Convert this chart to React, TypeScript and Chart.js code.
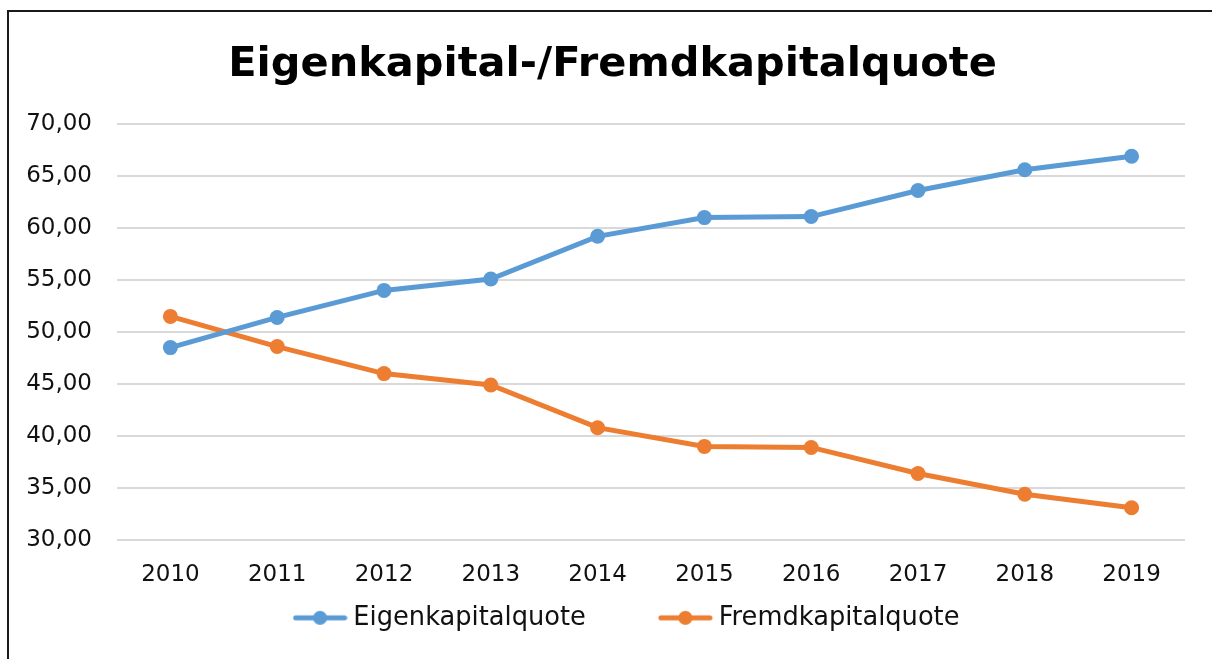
import React, { useEffect, useRef } from "react";
import { Chart, registerables } from "chart.js";
Chart.register(...registerables);

const years = ["2010", "2011", "2012", "2013", "2014", "2015", "2016", "2017", "2018", "2019"];
const eigenkapitalquote = [48.5, 51.4, 54.0, 55.1, 59.2, 61.0, 61.1, 63.6, 65.6, 66.9];
const fremdkapitalquote = [51.5, 48.6, 46.0, 44.9, 40.8, 39.0, 38.9, 36.4, 34.4, 33.1];
const seriesNames = ["Eigenkapitalquote", "Fremdkapitalquote"];
const yMin = 30;
const yMax = 70;
const yStep = 5;

const BLUE = "#5B9BD5";
const ORANGE = "#ED7D31";
const FONT = "'DejaVu Sans', sans-serif";
const LEGEND_PAD = 79;
const LEGEND_SHIFT_Y = 84;
const LEGEND_SHIFT_X = 37;
const TITLE_SHIFT_X = 20;

function makeSymbol(color: string): HTMLCanvasElement {
  const c = document.createElement("canvas");
  c.width = 55;
  c.height = 16;
  const ctx = c.getContext("2d")!;
  ctx.strokeStyle = color;
  ctx.lineWidth = 5;
  ctx.lineCap = "round";
  ctx.beginPath();
  ctx.moveTo(3, 8);
  ctx.lineTo(52, 8);
  ctx.stroke();
  ctx.fillStyle = color;
  ctx.beginPath();
  ctx.arc(27.5, 8, 7, 0, Math.PI * 2);
  ctx.fill();
  return c;
}

export default function App() {
  const ref = useRef<HTMLCanvasElement | null>(null);
  useEffect(() => {
    if (!ref.current) return;
    const symbols = [makeSymbol(BLUE), makeSymbol(ORANGE)];
    const shiftPlugin = {
      id: "shiftBoxes",
      afterLayout(chart: any) {
        const lg = chart.legend;
        if (lg) {
          lg.top -= LEGEND_SHIFT_Y;
          lg.bottom = lg.top + 150;
          lg.left += LEGEND_SHIFT_X;
          lg.right += LEGEND_SHIFT_X;
        }
        const tb = chart.titleBlock;
        if (tb) {
          tb.left += TITLE_SHIFT_X;
          tb.right += TITLE_SHIFT_X;
        }
      },
    };
    const chart = new Chart(ref.current, {
      type: "line",
      data: {
        labels: years,
        datasets: [
          {
            label: seriesNames[0],
            data: eigenkapitalquote,
            borderColor: BLUE,
            backgroundColor: BLUE,
            borderWidth: 5,
            pointRadius: 7.5,
            pointBackgroundColor: BLUE,
            pointBorderWidth: 0,
            tension: 0,
          },
          {
            label: seriesNames[1],
            data: fremdkapitalquote,
            borderColor: ORANGE,
            backgroundColor: ORANGE,
            borderWidth: 5,
            pointRadius: 7.5,
            pointBackgroundColor: ORANGE,
            pointBorderWidth: 0,
            tension: 0,
          },
        ],
      },
      plugins: [shiftPlugin],
      options: {
        animation: false,
        responsive: false,
        maintainAspectRatio: false,
        layout: { padding: { left: 0, right: 27, top: 0, bottom: 0 } },
        scales: {
          x: {
            offset: true,
            grid: { display: false, drawTicks: false },
            border: { display: false },
            ticks: { padding: 21.2, color: "#111", font: { family: FONT, size: 23, lineHeight: 1.2 } },
          },
          y: {
            min: yMin,
            max: yMax,
            grid: { color: "#d9d9d9", lineWidth: 2, drawTicks: false },
            border: { display: false },
            afterFit: (scale: any) => {
              scale.width = 117;
            },
            ticks: {
              stepSize: yStep,
              padding: 25,
              color: "#111",
              font: { family: FONT, size: 23 },
              callback: (v: any) => Number(v).toFixed(2).replace(".", ","),
            },
          },
        },
        plugins: {
          title: {
            display: true,
            text: "Eigenkapital-/Fremdkapitalquote",
            color: "#000",
            font: { family: FONT, size: 41.5, weight: "bold", lineHeight: 1.2 },
            padding: { top: 40.1, bottom: 34.1 },
          },
          legend: {
            position: "bottom",
            maxHeight: 49,
            labels: {
              usePointStyle: true,
              pointStyleWidth: 41,
              padding: LEGEND_PAD,
              color: "#111",
              font: { family: FONT, size: 25.7 },
              generateLabels: (ch: any) => {
                const items = (Chart as any).defaults.plugins.legend.labels.generateLabels(ch);
                return items.map((it: any, i: number) => ({ ...it, pointStyle: symbols[i] }));
              },
            },
          },
          tooltip: { enabled: false },
        },
      } as any,
    });
    return () => chart.destroy();
  }, []);

  return (
    <div style={{ position: "fixed", left: 0, top: 0, width: 1212, height: 659, overflow: "hidden", background: "#fff" }}>
      <div
        style={{
          position: "absolute",
          left: 7,
          top: 10,
          width: 1400,
          height: 800,
          border: "2px solid #1a1a1a",
        }}
      />
      <canvas ref={ref} width={1212} height={659} style={{ position: "absolute", left: 0, top: 0, width: 1212, height: 659 }} />
    </div>
  );
}
